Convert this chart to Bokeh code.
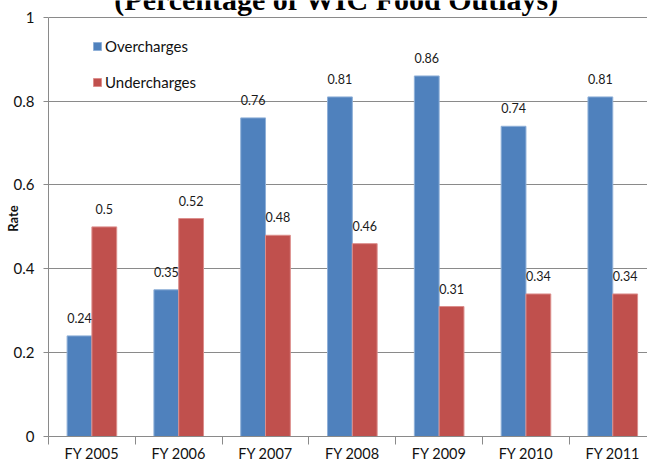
from bokeh.plotting import figure
from bokeh.models import (ColumnDataSource, FixedTicker, Range1d, Legend, LegendItem, Label)
from bokeh.core.properties import value
from bokeh.embed import file_html
from bokeh.resources import INLINE

categories = ["FY 2005", "FY 2006", "FY 2007", "FY 2008", "FY 2009", "FY 2010", "FY 2011"]
overcharges = [0.24, 0.35, 0.76, 0.81, 0.86, 0.74, 0.81]
undercharges = [0.50, 0.52, 0.48, 0.46, 0.31, 0.34, 0.34]
y_ticks = [0, 0.2, 0.4, 0.6, 0.8, 1]
y_tick_labels = ["0", "0.2", "0.4", "0.6", "0.8", "1"]
series_names = ["Overcharges", "Undercharges"]
title_text = "(Percentage of WIC Food Outlays)"
y_title = "Rate"

BLUE = "#4F81BD"
RED = "#C0504D"
GRID = "#8a8a8a"
FONT = "Lato"

n = len(categories)
bw = 1 / 3.5
centers = [i + 0.5 for i in range(n)]
x_over = [c - bw / 2 for c in centers]
x_under = [c + bw / 2 for c in centers]

src_o = ColumnDataSource(dict(x=x_over, top=overcharges, lab=[f"{v:g}" for v in overcharges]))
src_u = ColumnDataSource(dict(x=x_under, top=undercharges, lab=[f"{v:g}" for v in undercharges]))

# frame reaches the top of the canvas so the (cut-off) title line above the plot stays visible;
# the last category runs past the right edge of the picture, as in the reference
p = figure(width=647, height=464, output_backend="svg", toolbar_location=None,
           x_range=Range1d(0, 6.9), y_range=Range1d(0, 1.04),
           min_border_left=48, min_border_right=0, min_border_top=0, min_border_bottom=27)
p.outline_line_color = None
p.background_fill_color = "white"
p.border_fill_color = "white"

r_o = p.vbar(x="x", top="top", width=bw, bottom=0, source=src_o,
             fill_color=BLUE, line_color="#8fb0d8", line_width=1)
r_u = p.vbar(x="x", top="top", width=bw, bottom=0, source=src_u,
             fill_color=RED, line_color="#dc8e8c", line_width=1)

for s in (src_o, src_u):
    p.text(x="x", y="top", text="lab", source=s, text_align="center", text_baseline="bottom",
           y_offset=-13, text_font=value(FONT), text_font_size="12.5px", text_color="#1a1a1a")

# x axis
p.xgrid.visible = False
xa = p.xaxis[0]
xa.ticker = FixedTicker(ticks=centers, minor_ticks=list(range(n + 1)))
xa.major_label_overrides = {c: lab for c, lab in zip(centers, categories)}
xa.major_tick_out = 0
xa.major_tick_in = 0
xa.minor_tick_out = 8
xa.minor_tick_in = 0
xa.minor_tick_line_color = GRID
xa.axis_line_color = GRID
xa.major_label_standoff = 0
xa.major_label_text_font = FONT
xa.major_label_text_font_size = "14.5px"
xa.major_label_text_color = "#111111"

# y axis
ya = p.yaxis[0]
ya.ticker = FixedTicker(ticks=y_ticks)
ya.bounds = (0, 1)
ya.major_label_overrides = {t: lab for t, lab in zip(y_ticks, y_tick_labels)}
ya.major_tick_out = 5
ya.major_tick_in = 0
ya.minor_tick_out = 0
ya.minor_tick_in = 0
ya.major_tick_line_color = GRID
ya.axis_line_color = GRID
ya.major_label_standoff = 9
ya.major_label_text_font = FONT
ya.major_label_text_font_size = "15px"
ya.major_label_text_color = "#111111"
ya.axis_label = y_title
ya.axis_label_standoff = -10
ya.axis_label_text_font = FONT
ya.axis_label_text_font_size = "13px"
ya.axis_label_text_font_style = "bold"
ya.axis_label_text_color = "#111111"

p.ygrid.ticker = FixedTicker(ticks=y_ticks)
p.ygrid.grid_line_color = GRID
p.ygrid.grid_line_width = 1

legend = Legend(items=[LegendItem(label=series_names[0], renderers=[r_o]),
                       LegendItem(label=series_names[1], renderers=[r_u])],
                location=(44, 344), padding=0, margin=0, spacing=16,
                glyph_width=10, glyph_height=10, label_height=20, label_standoff=3,
                label_text_font=FONT, label_text_font_size="15px", label_text_color="#111111",
                border_line_alpha=0, background_fill_alpha=0)
p.add_layout(legend, "center")

p.add_layout(Label(x=288, y=437, x_units="screen", y_units="screen", text=title_text,
                   text_align="center", text_baseline="alphabetic",
                   text_font="Liberation Serif", text_font_size="30px", text_font_style="bold",
                   text_color="#000000"))

open("out.html", "w").write(file_html(p, INLINE))
